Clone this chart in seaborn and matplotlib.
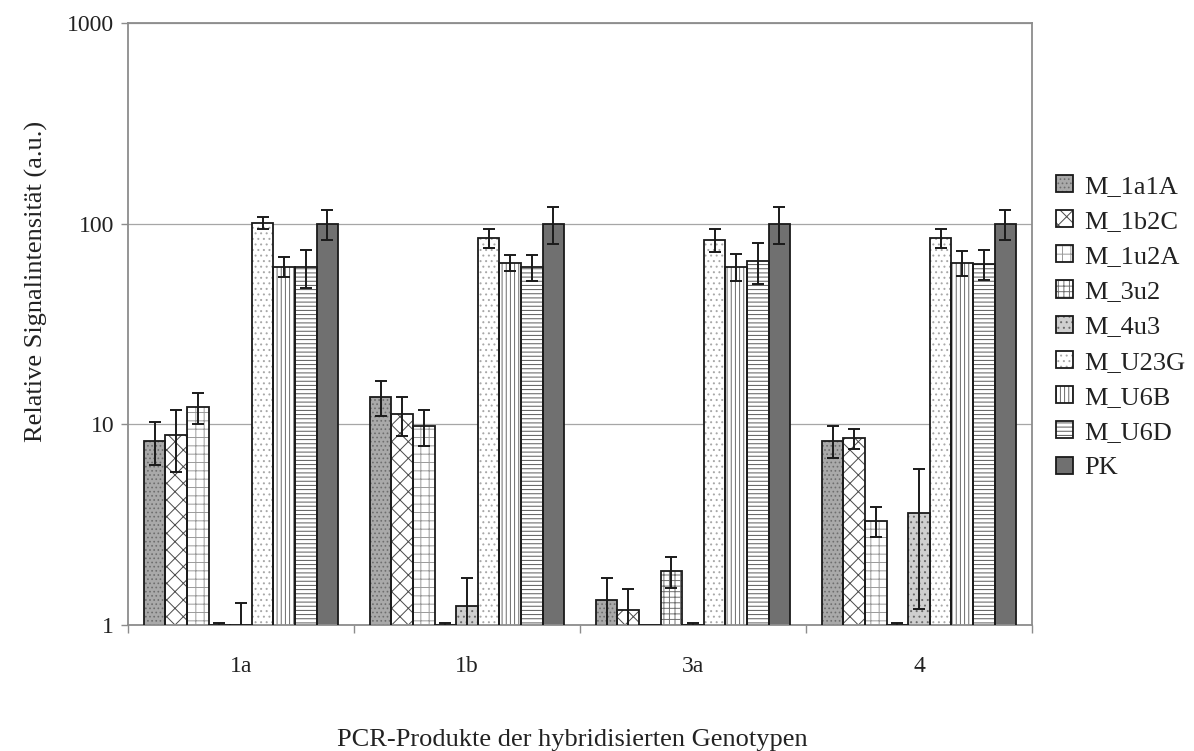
import numpy as np
import pandas as pd
import matplotlib
matplotlib.use("Agg")
import matplotlib.pyplot as plt
import matplotlib.patches as mpatches
from matplotlib.legend_handler import HandlerTuple
import seaborn as sns

# Genotypes on the x axis and hybridisation probes (hue)
genotypes = ["1a", "1b", "3a", "4"]
probes = ["M_1a1A", "M_1b2C", "M_1u2A", "M_3u2", "M_4u3",
          "M_U23G", "M_U6B", "M_U6D", "PK"]

# Relative signal intensity (a.u.) per probe, one value per genotype
m_1a1a = [8.3, 13.7, 1.33, 8.3]
m_1b2c = [8.8, 11.2, 1.19, 8.5]
m_1u2a = [12.2, 9.8, 1.0, 3.3]
m_3u2 = [1.0, 1.0, 1.85, 1.0]
m_4u3 = [1.0, 1.24, 1.0, 3.6]
m_u23g = [101.0, 85.0, 83.0, 85.0]
m_u6b = [61.0, 64.0, 61.0, 64.0]
m_u6d = [61.0, 61.0, 65.0, 63.0]
pk = [100.0, 100.0, 100.0, 100.0]

# Standard deviations
e_1a1a = [2.0, 2.7, 0.38, 1.5]
e_1b2c = [3.0, 2.5, 0.32, 1.0]
e_1u2a = [2.2, 2.0, 0.0, 0.55]
e_3u2 = [0.02, 0.02, 0.32, 0.02]
e_4u3 = [0.28, 0.47, 0.02, 2.4]
e_u23g = [7.0, 9.0, 11.0, 9.0]
e_u6b = [7.0, 6.0, 9.5, 9.0]
e_u6d = [13.0, 9.0, 15.0, 10.5]
e_pk = [17.0, 21.0, 21.0, 17.0]

values = [m_1a1a, m_1b2c, m_1u2a, m_3u2, m_4u3, m_u23g, m_u6b, m_u6d, pk]
errors = [e_1a1a, e_1b2c, e_1u2a, e_3u2, e_4u3, e_u23g, e_u6b, e_u6d, e_pk]

# Fill styles: (face colour, hatch, hatch colour)
styles = [
    ("#a9a9a9", "....", "#6e6e6e"),
    ("#ffffff", "xx", "#4a4a4a"),
    ("#ffffff", "++", "#9a9a9a"),
    ("#ffffff", "+++", "#707070"),
    ("#cfcfcf", "...", "#6a6a6a"),
    ("#ffffff", "...", "#a8a8a8"),
    ("#ffffff", "||||", "#6a6a6a"),
    ("#ffffff", "----", "#5a5a5a"),
    ("#707070", "", "#707070"),
]

rows = []
for probe, vals in zip(probes, values):
    for g, v in zip(genotypes, vals):
        rows.append({"Genotyp": g, "Sonde": probe, "Signal": v})
df = pd.DataFrame(rows)

sns.set_theme(style="white")
plt.rcParams["font.family"] = ["Liberation Serif", "DejaVu Serif"]
plt.rcParams["hatch.linewidth"] = 0.7

fig = plt.figure(figsize=(11.94, 7.51), dpi=100)
ax = fig.add_axes([0.1072, 0.1678, 0.7571, 0.8016])

sns.barplot(data=df, x="Genotyp", y="Signal", hue="Sonde", order=genotypes,
            hue_order=probes, errorbar=None, width=0.86, ax=ax,
            legend=False, saturation=1)

ax.set_yscale("log")

for cont, (fc, hatch, hc), errs in zip(ax.containers, styles, errors):
    for bar, err in zip(cont, errs):
        bar.set_facecolor(fc)
        bar.set_hatch(hatch)
        bar.set_edgecolor(hc)
        bar.set_linewidth(0)
        outline = mpatches.Rectangle((bar.get_x(), bar.get_y()), bar.get_width(),
                                     bar.get_height(), fill=False,
                                     edgecolor="#1a1a1a", linewidth=1.3, zorder=3)
        ax.add_patch(outline)
        xc = bar.get_x() + bar.get_width() / 2
        if err > 0:
            ax.errorbar(xc, bar.get_height(), yerr=err, fmt="none",
                        ecolor="#1a1a1a", elinewidth=1.4, capsize=4.5,
                        capthick=1.4, zorder=4)

ax.set_ylim(1, 1000)
ax.set_xlim(-0.5, len(genotypes) - 0.5)
ax.yaxis.set_major_locator(matplotlib.ticker.FixedLocator([1, 10, 100, 1000]))
ax.yaxis.set_major_formatter(matplotlib.ticker.FuncFormatter(lambda v, p: f"{v:g}"))
ax.yaxis.set_minor_locator(matplotlib.ticker.NullLocator())
ax.yaxis.grid(True, color="#a6a6a6", linewidth=0.9)
ax.set_axisbelow(True)

# Category ticks between groups
ax.set_xticks(np.arange(len(genotypes)))
ax.set_xticks(np.arange(len(genotypes) + 1) - 0.5, minor=True)
ax.tick_params(axis="x", which="major", length=0, pad=22, labelsize=17,
               colors="#222222")
ax.tick_params(axis="x", which="minor", length=6, width=1, color="#8c8c8c",
               direction="out", bottom=True)
ax.tick_params(axis="y", which="major", length=5, width=1, color="#8c8c8c",
               direction="out", left=True, pad=5, labelsize=17,
               labelcolor="#222222")

for s in ax.spines.values():
    s.set_color("#8c8c8c")
    s.set_linewidth(1.3)

ax.set_xlabel("PCR-Produkte der hybridisierten Genotypen", fontsize=19,
              color="#222222")
ax.set_ylabel("Relative Signalintensität (a.u.)", fontsize=19, color="#222222")
ax.xaxis.set_label_coords(0.491, -0.172)
ax.yaxis.set_label_coords(-0.088, 0.57)

handles = []
for fc, hatch, hc in styles:
    fill = mpatches.Patch(facecolor=fc, hatch=hatch, edgecolor=hc, linewidth=0)
    edge = mpatches.Patch(fill=False, edgecolor="#1a1a1a", linewidth=1.3)
    handles.append((fill, edge))

leg = ax.legend(handles, probes, handler_map={tuple: HandlerTuple(ndivide=1, pad=0)},
                loc="upper left", bbox_to_anchor=(1.027, 0.748), frameon=False,
                fontsize=19, handlelength=0.62, handleheight=0.62,
                handletextpad=0.45, labelspacing=0.47, borderaxespad=0,
                borderpad=0)
for t in leg.get_texts():
    t.set_color("#222222")

fig.savefig("out.png", dpi=100)
